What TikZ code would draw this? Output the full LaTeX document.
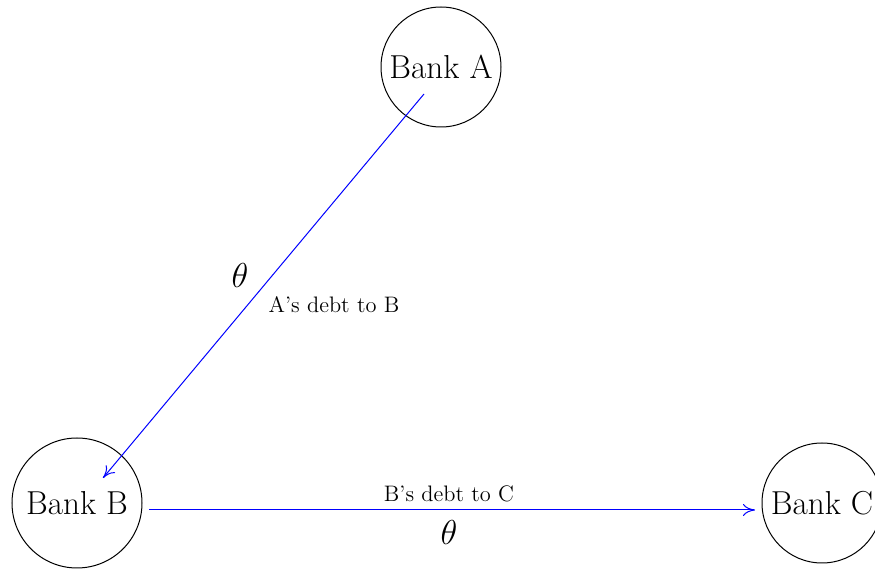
\documentclass[tikz,border=0pt]{standalone}
\usetikzlibrary{arrows.meta}
\begin{document}
\begin{tikzpicture}[x=0.5pt,y=-0.5pt,
  bank/.style={circle,draw=black,line width=0.5pt,inner sep=0pt,font=\fontsize{16.6}{19}\selectfont},
  debt/.style={draw=blue,line width=0.5pt,-{To[length=6pt,width=6pt]}},
  lbl/.style={inner sep=0pt,font=\fontsize{11.2}{13}\selectfont},
  th/.style={inner sep=0pt,font=\fontsize{17}{20}\selectfont}]
\useasboundingbox (0,0) rectangle (875,571);
\node[bank,minimum size=60pt] (A) at (441,67) {Bank A};
\node[bank,minimum size=65pt] (B) at (77,503) {Bank B};
\node[bank,minimum size=60pt] (C) at (822,503) {Bank C};
\draw[debt] ([shift={(-17,27)}]A.center) -- ([shift={(26,-25)}]B.center);
\draw[debt] ([shift={(72,7)}]B.center) -- ([shift={(-67,7)}]C.center);
\node[th] (t1) at (240,276) {$\theta$};
\node[lbl] (l1) at (334,305) {A's debt to B};
\node[lbl] (l2) at (449,494) {B's debt to C};
\node[th] (t2) at (449,533) {$\theta$};
\end{tikzpicture}
\end{document}
